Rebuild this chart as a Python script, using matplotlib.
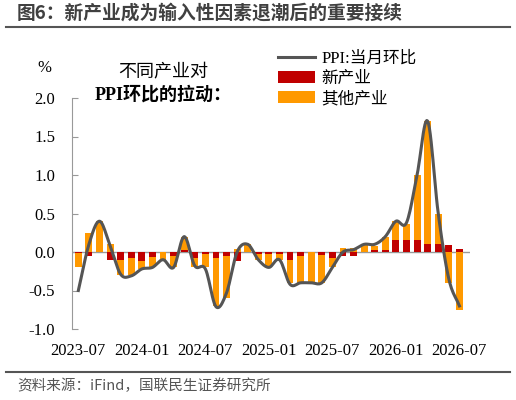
import matplotlib
matplotlib.use("Agg")
import matplotlib.pyplot as plt
import numpy as np

months = ["2023-07","2023-08","2023-09","2023-10","2023-11","2023-12","2024-01","2024-02","2024-03","2024-04","2024-05","2024-06",
          "2024-07","2024-08","2024-09","2024-10","2024-11","2024-12","2025-01","2025-02","2025-03","2025-04","2025-05","2025-06",
          "2025-07","2025-08","2025-09","2025-10","2025-11","2025-12","2026-01","2026-02","2026-03","2026-04","2026-05","2026-06","2026-07"]
new_ind = [-0.01,-0.05,0.0,-0.10,-0.10,-0.08,-0.12,-0.07,0.0,-0.05,0.02,-0.08,
           -0.02,-0.08,-0.05,-0.12,0.0,-0.02,-0.02,-0.02,-0.10,-0.05,0.0,-0.04,
           -0.08,-0.05,-0.05,0.0,0.02,0.02,0.15,0.16,0.15,0.10,0.10,0.09,0.04]
other_ind = [-0.19,0.25,0.40,0.10,-0.20,-0.22,-0.10,-0.13,-0.10,-0.15,0.18,-0.12,
             -0.18,-0.62,-0.55,0.04,0.10,-0.08,-0.18,-0.08,-0.30,-0.35,-0.40,-0.36,
             -0.12,0.05,0.05,0.10,0.06,0.18,0.25,0.20,0.85,1.60,0.40,-0.40,-0.75]
ppi = [-0.5,0.1,0.4,0.08,-0.29,-0.31,-0.22,-0.2,-0.1,-0.2,0.2,-0.18,
       -0.22,-0.71,-0.53,0.0,0.1,-0.1,-0.2,-0.1,-0.42,-0.4,-0.4,-0.4,
       -0.2,0.0,0.03,0.1,0.1,0.2,0.4,0.38,1.0,1.7,0.5,-0.35,-0.7]
tick_labels = ["2023-07","2024-01","2024-07","2025-01","2025-07","2026-01","2026-07"]

serif = ["Liberation Serif", "Noto Sans CJK SC"]
cjk = ["Noto Sans CJK SC", "DejaVu Sans"]

def catmull(xs, ys, n=12):
    xs = np.asarray(xs, float); ys = np.asarray(ys, float)
    px = np.concatenate([[2*xs[0]-xs[1]], xs, [2*xs[-1]-xs[-2]]])
    py = np.concatenate([[2*ys[0]-ys[1]], ys, [2*ys[-1]-ys[-2]]])
    ox, oy = [], []
    t = np.linspace(0, 1, n, endpoint=False)
    for i in range(1, len(px)-2):
        for P, out in ((px, ox), (py, oy)):
            p0, p1, p2, p3 = P[i-1], P[i], P[i+1], P[i+2]
            out.extend(0.5*((2*p1) + (-p0+p2)*t + (2*p0-5*p1+4*p2-p3)*t**2 + (-p0+3*p1-3*p2+p3)*t**3))
    ox.append(xs[-1]); oy.append(ys[-1])
    return np.array(ox), np.array(oy)

fig = plt.figure(figsize=(5.16, 4.0), dpi=100)
ax = fig.add_axes([72/516, 1-329/400, 398/516, 231/400])
x = np.arange(len(months))
r = np.array(new_ind); o = np.array(other_ind)
bottom = np.where(np.sign(o) == np.sign(r), r, 0)
ax.bar(x, r, width=0.65, color="#C00000", label="新产业", zorder=2)
ax.bar(x, o, bottom=bottom, width=0.65, color="#FF9900", label="其他产业", zorder=2)
sx, sy = catmull(x, ppi)
ax.plot(sx, sy, color="#555555", lw=2.2, label="PPI:当月环比", zorder=3)
ax.axhline(0, color="#999999", lw=1, zorder=1)

ax.set_xlim(-0.6, 37.0)
ax.set_ylim(-1.0, 2.0)
ax.set_yticks([-1.0, -0.5, 0.0, 0.5, 1.0, 1.5, 2.0])
ax.set_yticklabels([f"{v:.1f}" for v in [-1.0, -0.5, 0.0, 0.5, 1.0, 1.5, 2.0]], fontfamily=serif, fontsize=12)
ax.set_xticks([months.index(t) for t in tick_labels])
ax.set_xticklabels(tick_labels, fontfamily=serif, fontsize=12)
ax.tick_params(axis="x", length=0, pad=10)
ax.tick_params(axis="y", length=4, color="#999999", pad=12, direction="in")
for s in ["top", "right", "bottom"]:
    ax.spines[s].set_visible(False)
ax.spines["left"].set_color("#999999")

leg = ax.legend(loc="upper left", bbox_to_anchor=(0.48, 1.27), frameon=False,
                prop={"family": serif, "size": 12}, handlelength=2.2, labelspacing=0.25, handletextpad=0.4)
fig.text(44/516, 1-68/400, "%", fontfamily=serif, fontsize=12, ha="center", va="center")
fig.text(163/516, 1-72/400, "不同产业对", fontfamily=serif, fontsize=13, ha="center", va="center")
fig.text(163/516, 1-95/400, "PPI环比的拉动：", fontfamily=serif, fontsize=13, ha="center", va="center", fontweight="bold")

fig.text(17/516, 1-13/400, "图6：新产业成为输入性因素退潮后的重要接续", fontfamily=cjk, fontsize=13.5,
         fontweight="bold", color="#404040", ha="left", va="center")
fig.add_artist(plt.Line2D([6/516, 510/516], [1-27/400, 1-27/400], color="#555555", lw=1.5))
fig.add_artist(plt.Line2D([6/516, 510/516], [1-372/400, 1-372/400], color="#555555", lw=1.5))
fig.text(17/516, 1-386/400, "资料来源：iFind，国联民生证券研究所", fontfamily=cjk, fontsize=10.5,
         color="#555555", ha="left", va="center")

fig.savefig("out.png", dpi=100)
